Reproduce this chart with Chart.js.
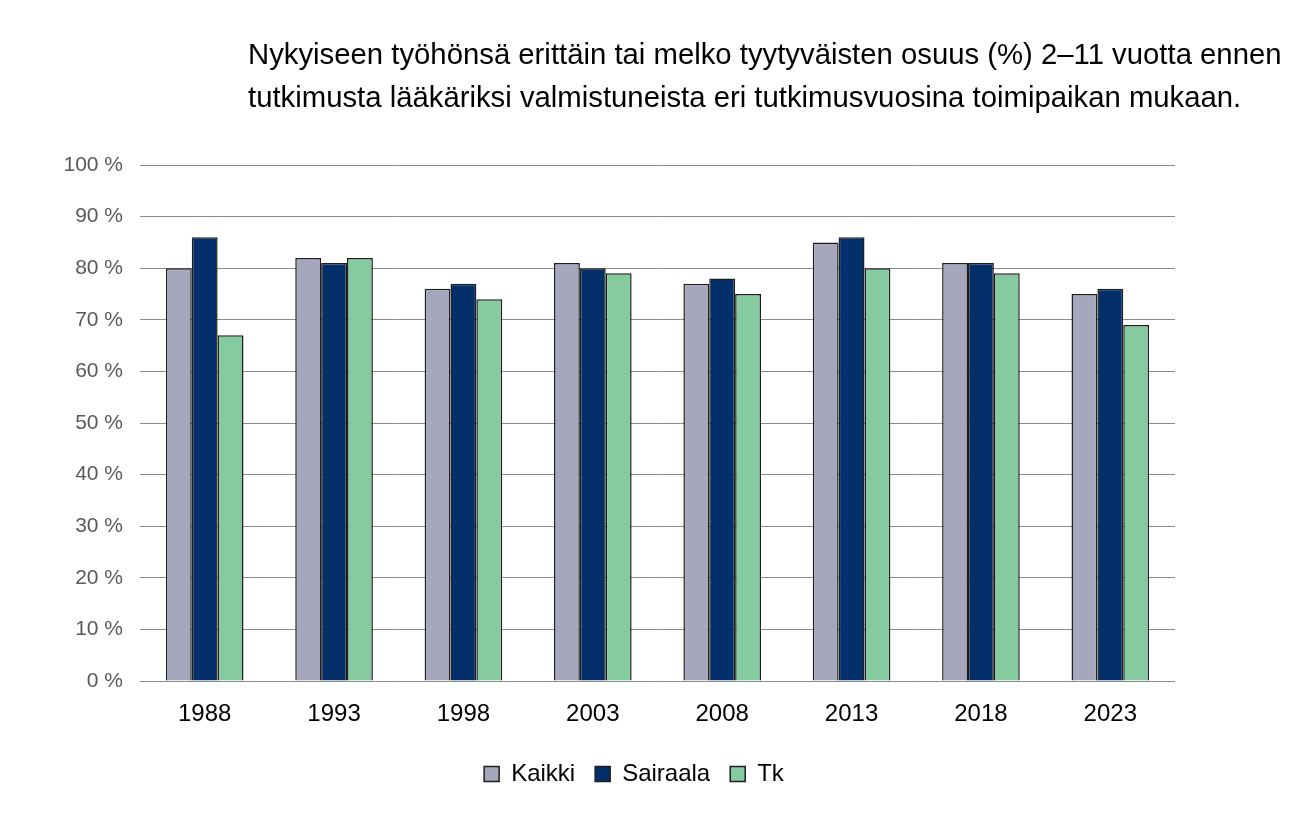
<!DOCTYPE html>
<html lang="fi">
<head>
  <meta charset="UTF-8">
  <title>Tyytyväisyys työhön</title>
  <script src="https://cdn.jsdelivr.net/npm/chart.js"></script>
  <style>
    body {
      margin: 0;
      background: #fff;
      font-family: "Liberation Sans", Arial, sans-serif;
    }
    .wrap {
      position: relative;
      width: 1300px;
      height: 826px;
    }
    .otsikko {
      position: absolute;
      left: 248px;
      top: 32px;
      font-size: 29.3px;
      line-height: 43px;
      color: #000;
      white-space: nowrap;
    }
    canvas {
      position: absolute;
      left: 0;
      top: 0;
    }
  </style>
</head>
<body>

<div class="wrap">
  <canvas id="kaavio" width="1300" height="826"></canvas>
  <div class="otsikko">Nykyiseen työhönsä erittäin tai melko tyytyväisten osuus (%) 2–11 vuotta ennen<br>tutkimusta lääkäriksi valmistuneista eri tutkimusvuosina toimipaikan mukaan.</div>
</div>

<script>
const vuodet = ["1988", "1993", "1998", "2003", "2008", "2013", "2018", "2023"];
const kaikki = [80, 82, 76, 81, 77, 85, 81, 75];
const sairaala = [86, 81, 77, 80, 78, 86, 81, 76];
const tk = [67, 82, 74, 79, 75, 80, 79, 69];

const fontti = "'Liberation Sans', Arial, sans-serif";
const reuna = "#1f1f1f";

const ctx = document.getElementById("kaavio").getContext("2d");

new Chart(ctx, {
  type: 'bar',
  data: {
    labels: vuodet,
    datasets: [
      { label: 'Kaikki', data: kaikki, backgroundColor: '#a6a7bd', borderColor: reuna, borderWidth: 1.5 },
      { label: 'Sairaala', data: sairaala, backgroundColor: '#032f6b', borderColor: reuna, borderWidth: 1.5 },
      { label: 'Tk', data: tk, backgroundColor: '#86cba0', borderColor: reuna, borderWidth: 1.5 }
    ]
  },
  options: {
    responsive: false,
    animation: false,
    layout: { padding: { top: 165, right: 32, bottom: 30, left: 0 } },
    datasets: { bar: { barPercentage: 1, categoryPercentage: 0.6 } },
    plugins: {
      title: { display: false },
      tooltip: { enabled: false },
      legend: {
        position: 'bottom',
        labels: {
          boxWidth: 15,
          boxHeight: 15,
          padding: 20,
          color: '#000',
          font: { family: fontti, size: 24 }
        }
      }
    },
    scales: {
      x: {
        grid: { display: false, drawTicks: false },
        border: { display: false },
        ticks: { color: '#000', padding: 19, font: { family: fontti, size: 24 } },
        afterFit: (s) => { s.height = 61; }
      },
      y: {
        min: 0,
        max: 100,
        grid: { color: '#8c8c8c', lineWidth: 1, drawTicks: false },
        border: { display: false },
        ticks: {
          stepSize: 10,
          padding: 17,
          color: '#595959',
          font: { family: fontti, size: 21 },
          callback: (v) => v + ' %'
        },
        afterFit: (s) => { s.width = 140; }
      },
      // tyhjä oikea reuna, jotta selite asettuu kuten alkuperäisessä
      oikea: {
        type: 'linear',
        position: 'right',
        grid: { display: false, drawTicks: false },
        border: { display: false },
        ticks: { display: false },
        afterFit: (s) => { s.width = 93; }
      }
    }
  }
});
</script>
</body>
</html>
